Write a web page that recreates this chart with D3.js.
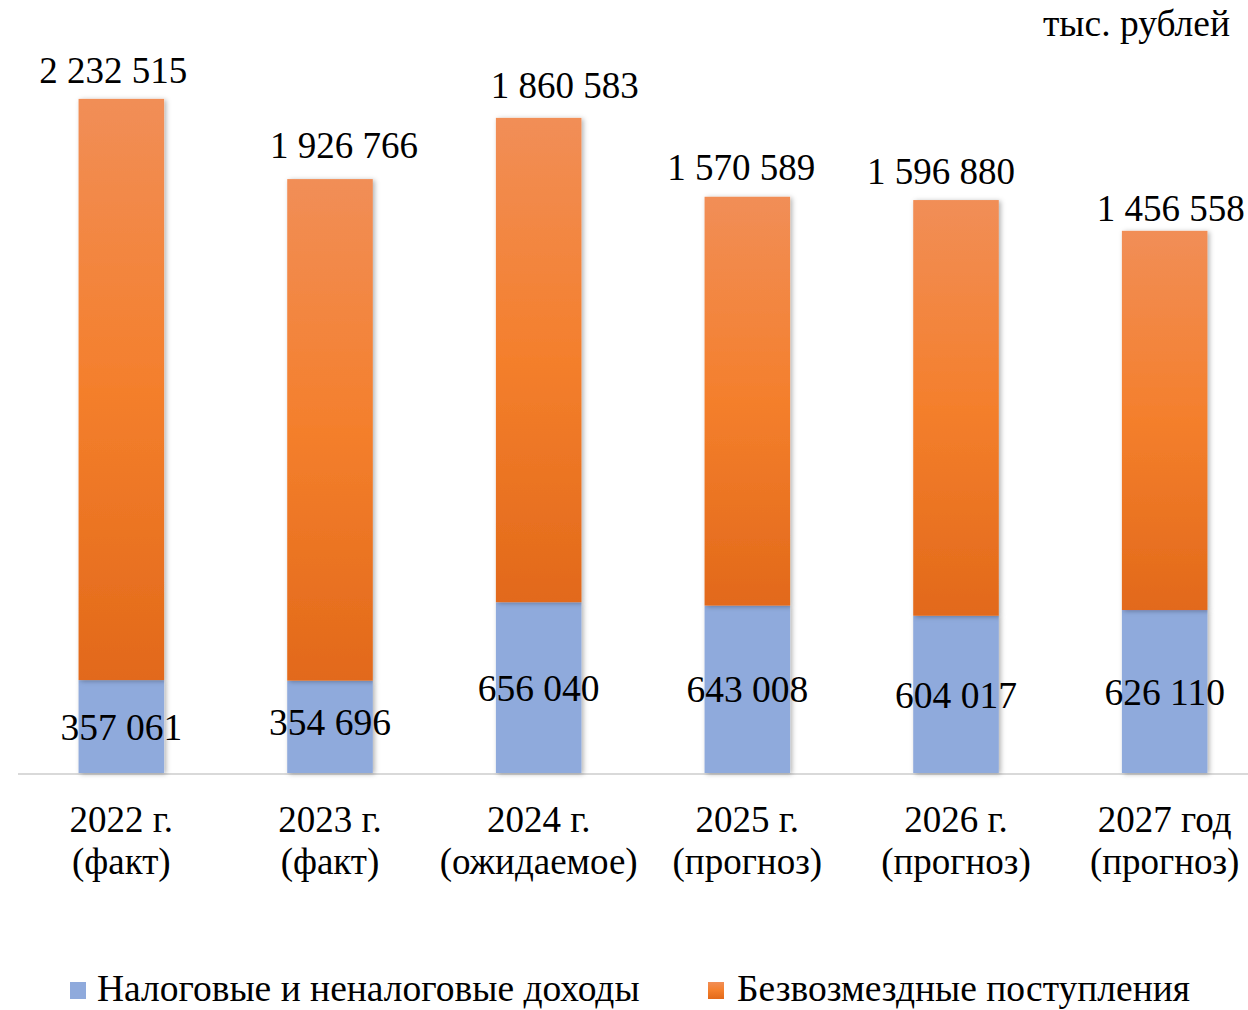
<!DOCTYPE html>
<head>
  <meta charset="utf-8">
  <script src="https://cdnjs.cloudflare.com/ajax/libs/d3/7.8.5/d3.min.js"></script>
  <style>
    body { margin:0; background:#fff; }
    #vis { width:1248px; height:1010px; overflow:hidden; }
    text { font-family: "Liberation Serif", "Times New Roman", serif; fill:#000; }
  </style>
</head>
<body>
  <div id="vis"></div>
  <script>
    var years = ["2022 г.", "2023 г.", "2024 г.", "2025 г.", "2026 г.", "2027 год"];
    var notes = ["(факт)", "(факт)", "(ожидаемое)", "(прогноз)", "(прогноз)", "(прогноз)"];
    var taxIncome = [357061, 354696, 656040, 643008, 604017, 626110];
    var grants = [2232515, 1926766, 1860583, 1570589, 1596880, 1456558];
    var seriesNames = ["Налоговые и неналоговые доходы", "Безвозмездные поступления"];

    // hand-placed label nudges, as in the original
    var topDx = [-8, 14, 26, -6, -15, 6];
    var topDy = [-1, -6, -5, -2, -1, 5];
    var lowDy = [0, -5, 0, 0, 0, 0];

    var width = 1248, height = 1010;
    var base = 773;

    var svg = d3.select("#vis").append("svg")
      .attr("width", width)
      .attr("height", height);

    var defs = svg.append("defs");
    var grad = defs.append("linearGradient")
      .attr("id", "orangeGrad")
      .attr("x1", 0).attr("y1", 0).attr("x2", 0).attr("y2", 1);
    grad.append("stop").attr("offset", "0%").attr("stop-color", "#f18e57");
    grad.append("stop").attr("offset", "50%").attr("stop-color", "#f47f2c");
    grad.append("stop").attr("offset", "100%").attr("stop-color", "#e2691a");

    var shadow = defs.append("filter").attr("id", "shadow")
      .attr("x", "-20%").attr("y", "-5%").attr("width", "150%").attr("height", "115%");
    shadow.append("feDropShadow")
      .attr("dx", 2).attr("dy", 1).attr("stdDeviation", 2.5)
      .attr("flood-color", "#000").attr("flood-opacity", 0.3);

    var x = d3.scaleBand()
      .domain(years)
      .range([17, 1269])
      .paddingInner(0.59)
      .paddingOuter(0.295);

    var y = d3.scaleLinear()
      .domain([0, 2931000])
      .range([base, 10]);

    // baseline
    svg.append("line")
      .attr("x1", 18).attr("x2", width)
      .attr("y1", base + 1).attr("y2", base + 1)
      .attr("stroke", "#d9d9d9")
      .attr("stroke-width", 2);

    var g = svg.selectAll(".bar").data(years).enter().append("g")
      .attr("class", "bar");

    g.append("rect")
      .attr("x", function(d) { return x(d); })
      .attr("width", x.bandwidth())
      .attr("y", function(d, i) { return y(taxIncome[i]); })
      .attr("height", function(d, i) { return base - y(taxIncome[i]); })
      .attr("fill", "#8faadc")
      .attr("filter", "url(#shadow)");

    g.append("rect")
      .attr("x", function(d) { return x(d); })
      .attr("width", x.bandwidth())
      .attr("y", function(d, i) { return y(taxIncome[i] + grants[i]); })
      .attr("height", function(d, i) { return y(taxIncome[i]) - y(taxIncome[i] + grants[i]); })
      .attr("fill", "url(#orangeGrad)")
      .attr("filter", "url(#shadow)");

    var fmt = function(v) { return d3.format(",")(v).replace(/,/g, " "); };

    g.append("text")
      .attr("x", function(d) { return x(d) + x.bandwidth() / 2; })
      .attr("y", function(d, i) { return (y(taxIncome[i]) + base) / 2 + lowDy[i]; })
      .attr("dy", "0.35em")
      .attr("text-anchor", "middle")
      .style("font-size", "37.5px")
      .text(function(d, i) { return fmt(taxIncome[i]); });

    g.append("text")
      .attr("x", function(d, i) { return x(d) + x.bandwidth() / 2 + topDx[i]; })
      .attr("y", function(d, i) { return y(taxIncome[i] + grants[i]) - 15 + topDy[i]; })
      .attr("text-anchor", "middle")
      .style("font-size", "37px")
      .text(function(d, i) { return fmt(grants[i]); });

    // category labels
    var lab = g.append("text")
      .attr("text-anchor", "middle")
      .style("font-size", "37px");
    lab.append("tspan")
      .attr("x", function(d) { return x(d) + x.bandwidth() / 2; })
      .attr("y", 832)
      .text(function(d) { return d; });
    lab.append("tspan")
      .attr("x", function(d) { return x(d) + x.bandwidth() / 2; })
      .attr("y", 874)
      .text(function(d, i) { return notes[i]; });

    // units
    svg.append("text")
      .attr("x", 1230).attr("y", 36)
      .attr("text-anchor", "end")
      .style("font-size", "37.5px")
      .text("тыс. рублей");

    // legend
    var legX = [70, 708];
    var legFill = ["#8faadc", "url(#orangeGrad)"];
    var leg = svg.selectAll(".leg").data(seriesNames).enter().append("g")
      .attr("class", "leg")
      .attr("transform", function(d, i) { return "translate(" + legX[i] + ",0)"; });
    leg.append("rect")
      .attr("x", 0).attr("y", 982)
      .attr("width", 16).attr("height", 17)
      .attr("fill", function(d, i) { return legFill[i]; });
    leg.append("text")
      .attr("x", function(d, i) { return i == 0 ? 27 : 29; })
      .attr("y", 1001)
      .style("font-size", "37.5px")
      .text(function(d) { return d; });
  </script>
</body>
